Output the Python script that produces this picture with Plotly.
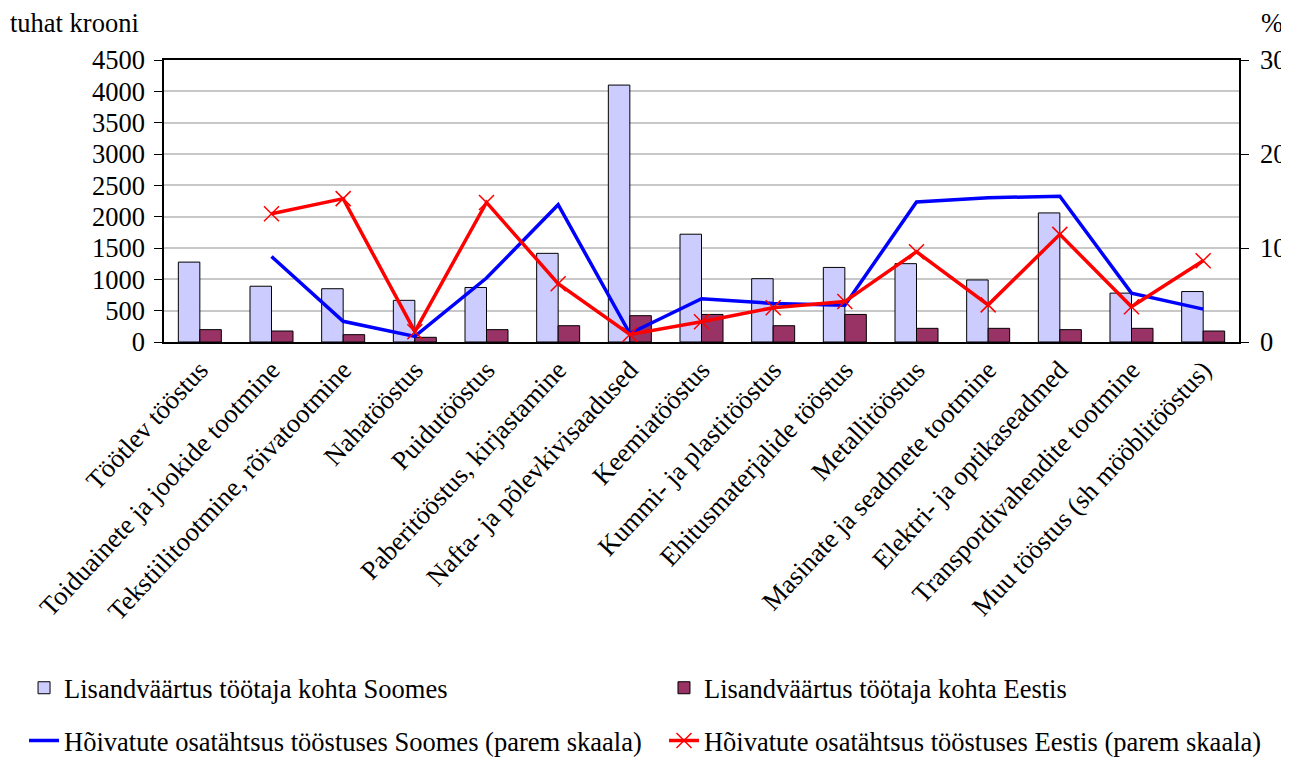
import plotly.graph_objects as go

categories = [
    "Töötlev tööstus",
    "Toiduainete ja jookide tootmine",
    "Tekstiilitootmine, rõivatootmine",
    "Nahatööstus",
    "Puidutööstus",
    "Paberitööstus, kirjastamine",
    "Nafta- ja põlevkivisaadused",
    "Keemiatööstus",
    "Kummi- ja plastitööstus",
    "Ehitusmaterjalide tööstus",
    "Metallitööstus",
    "Masinate ja seadmete tootmine",
    "Elektri- ja optikaseadmed",
    "Transpordivahendite tootmine",
    "Muu tööstus (sh mööblitööstus)",
]

lisand_soomes = [1275, 890, 850, 665, 870, 1415, 4100, 1720, 1010, 1190, 1250, 990, 2060, 780, 805]
lisand_eestis = [197, 175, 117, 75, 197, 260, 420, 440, 260, 440, 218, 218, 197, 218, 175]
hoiv_soomes = [None, 9.1, 2.2, 0.6, 6.8, 14.6, 0.9, 4.6, 4.1, 3.9, 14.9, 15.35, 15.5, 5.2, 3.5]
hoiv_eestis = [None, 13.65, 15.25, 1.1, 14.85, 6.2, 0.8, 2.15, 3.65, 4.3, 9.6, 3.95, 11.45, 3.75, 8.65]

left_ticks = list(range(0, 4501, 500))
right_ticks = [0, 10, 20, 30]

FONT = "Liberation Serif"
FS = 26.5

fig = go.Figure()
fig.add_trace(go.Bar(
    x=categories, y=lisand_soomes, name="Lisandväärtus töötaja kohta Soomes",
    marker=dict(color="#CCCCFF", line=dict(color="#000000", width=1)),
    legend="legend", yaxis="y",
))
fig.add_trace(go.Bar(
    x=categories, y=lisand_eestis, name="Lisandväärtus töötaja kohta Eestis",
    marker=dict(color="#993366", line=dict(color="#000000", width=1)),
    legend="legend2", yaxis="y",
))
fig.add_trace(go.Scatter(
    x=categories, y=hoiv_soomes, name="Hõivatute osatähtsus tööstuses Soomes (parem skaala)",
    mode="lines", line=dict(color="#0000FF", width=3.5),
    yaxis="y2", legend="legend3",
))
fig.add_trace(go.Scatter(
    x=categories, y=hoiv_eestis, name="Hõivatute osatähtsus tööstuses Eestis (parem skaala)",
    mode="lines+markers", line=dict(color="#FF0000", width=3.5),
    marker=dict(symbol="x-thin", size=15, line=dict(color="#FF0000", width=1.5), color="#FF0000"),
    yaxis="y2", legend="legend4",
))

legend_common = dict(
    orientation="h", xanchor="left", yanchor="middle",
    font=dict(family=FONT, size=FS, color="#000000"),
    bgcolor="rgba(0,0,0,0)", itemclick=False, itemdoubleclick=False,
    borderwidth=0,
)
row1_y = -1.227
row2_y = -1.414
col1_x = -0.1302
col2_x = 0.4651

fig.update_layout(
    width=1281, height=750,
    margin=dict(l=156, r=50, t=52, b=416, autoexpand=False),
    paper_bgcolor="white", plot_bgcolor="white",
    font=dict(family=FONT, size=FS, color="#000000"),
    barmode="group", bargap=0.4, bargroupgap=0,
    showlegend=True,
    legend=dict(x=col1_x, y=row1_y, **legend_common),
    legend2=dict(x=col2_x, y=row1_y, **legend_common),
    legend3=dict(x=col1_x, y=row2_y, **legend_common),
    legend4=dict(x=col2_x, y=row2_y, **legend_common),
    xaxis=dict(
        range=[-0.5, len(categories) - 0.5],
        tickangle=-47, showgrid=False, showline=True, linecolor="#000000", linewidth=1.5,
        mirror=True, ticks="", automargin=False,
        tickfont=dict(family=FONT, size=FS, color="#000000"),
    ),
    yaxis=dict(
        range=[0, 4500], tickvals=left_ticks, ticks="outside", ticklen=8, tickcolor="#000000",
        showline=True, linecolor="#000000", linewidth=1.5, automargin=False,
        showgrid=True, gridcolor="#C8C8C8", gridwidth=1.5, zeroline=False,
        tickfont=dict(family=FONT, size=FS, color="#000000"), ticklabelstandoff=4,
    ),
    yaxis2=dict(
        range=[0, 30], tickvals=right_ticks, overlaying="y", side="right",
        ticks="outside", ticklen=8, tickcolor="#000000", automargin=False,
        showline=True, linecolor="#000000", linewidth=1.5,
        showgrid=False, zeroline=False,
        tickfont=dict(family=FONT, size=FS, color="#000000"), ticklabelstandoff=6,
    ),
    annotations=[
        dict(text="tuhat krooni", xref="paper", yref="paper", x=-0.1433, xshift=-2, y=1.0, yshift=37,
             xanchor="left", yanchor="middle", showarrow=False,
             font=dict(family=FONT, size=FS, color="#000000")),
        dict(text="%", xref="paper", yref="paper", x=1.0, xshift=33, y=1.0, yshift=37,
             xanchor="center", yanchor="middle", showarrow=False,
             font=dict(family=FONT, size=FS, color="#000000")),
    ],
)

fig.write_html("out.html")
